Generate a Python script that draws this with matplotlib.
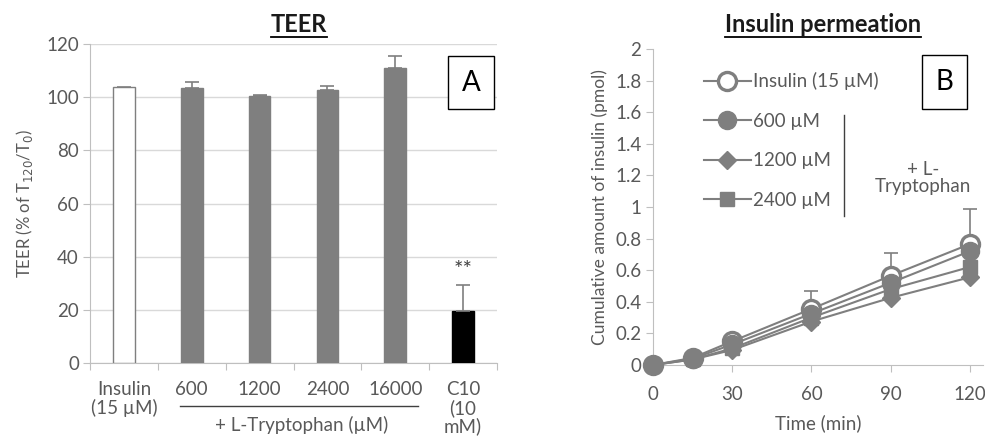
import matplotlib
matplotlib.use("Agg")
import matplotlib.pyplot as plt
from matplotlib.lines import Line2D
import numpy as np

plt.rcParams['font.family'] = ['Lato', 'DejaVu Sans']

# ---- Panel A data ----
teer_labels = ["Insulin\n(15 µM)", "600", "1200", "2400", "16000", "C10\n(10\nmM)"]
teer_values = [103.8, 103.4, 100.3, 102.6, 111.0, 19.5]
teer_err = [np.nan, 2.3, 0.4, 1.5, 4.6, 9.8]
teer_colors = ["white", "#7f7f7f", "#7f7f7f", "#7f7f7f", "#7f7f7f", "black"]
teer_yticks = [0, 20, 40, 60, 80, 100, 120]

# ---- Panel B data ----
time_min = [0, 15, 30, 60, 90, 120]
series_names = ["Insulin (15 µM)", "600 µM", "1200 µM", "2400 µM"]
ins_only = [0.0, 0.045, 0.15, 0.355, 0.565, 0.765]
trp_600 = [0.0, 0.04, 0.13, 0.325, 0.52, 0.72]
trp_1200 = [0.0, 0.035, 0.095, 0.275, 0.425, 0.555]
trp_2400 = [0.0, 0.035, 0.105, 0.30, 0.48, 0.62]
ins_err_up = [0.0, 0.0, 0.0, 0.115, 0.145, 0.225]
perm_yticks = [0, 0.2, 0.4, 0.6, 0.8, 1, 1.2, 1.4, 1.6, 1.8, 2]
perm_ytick_labels = ["0", "0.2", "0.4", "0.6", "0.8", "1", "1.2", "1.4", "1.6", "1.8", "2"]
time_ticks = [0, 30, 60, 90, 120]

W, H = 985, 447
fig = plt.figure(figsize=(W / 100, H / 100), dpi=100)
TXT = "#595959"
AX = "#bfbfbf"
FS = 13.5

def fx(px):
    return px / W

def fy(py):
    return 1 - py / H

# ================= Panel A =================
axA = fig.add_axes([fx(90), fy(363), fx(497 - 90), (363 - 44) / H])
x = np.arange(len(teer_values))
axA.bar(x, teer_values, width=0.32, color=teer_colors,
        edgecolor=["#7f7f7f", "#7f7f7f", "#7f7f7f", "#7f7f7f", "#7f7f7f", "black"],
        linewidth=1.0, zorder=3)
err = np.array(teer_err)
axA.errorbar(x, teer_values, yerr=[np.zeros(len(err)), err], fmt='none',
             ecolor="#7f7f7f", elinewidth=1.2, capsize=5, capthick=1.2, zorder=4)
axA.set_ylim(0, 120)
axA.set_xlim(-0.5, 5.5)
axA.set_yticks(teer_yticks)
axA.set_yticklabels([str(v) for v in teer_yticks], fontsize=FS, color=TXT)
axA.yaxis.grid(True, color="#d9d9d9", linewidth=1.0, zorder=0)
axA.set_axisbelow(True)
for s in ["top", "right"]:
    axA.spines[s].set_visible(False)
axA.spines["left"].set_color(AX)
axA.spines["bottom"].set_color(AX)
axA.tick_params(axis='y', length=5, color=AX, pad=3)
axA.set_xticks(np.arange(-0.5, 6.0, 1.0))
axA.set_xticklabels([])
axA.tick_params(axis='x', which='major', length=5, color=AX, direction='out')
axA.set_xticks(x, minor=True)
axA.set_xticklabels(teer_labels, minor=True, fontsize=FS, color=TXT, va='top', linespacing=1.05)
axA.tick_params(axis='x', which='minor', length=0, pad=13)
axA.set_ylabel("TEER (% of T$_{120}$/T$_0$)", fontsize=12, color=TXT, labelpad=8)
axA.text(x[5], teer_values[5] + teer_err[5] + 2, "**", ha='center', va='bottom',
         fontsize=16, color="#404040")
# bracket line and label for L-Tryptophan
fig.add_artist(Line2D([fx(180), fx(418)], [fy(406), fy(406)], color="#404040", linewidth=1.0))
fig.text(fx(302), fy(425), "+ L-Tryptophan (µM)", ha='center', va='center', fontsize=FS, color=TXT)
# box A
axA.text(0.936, 0.879, "A", transform=axA.transAxes, ha='center', va='center', fontsize=20,
         color="black", bbox=dict(boxstyle="square,pad=0.5", fc="white", ec="black", lw=1.0))

# ================= Panel B =================
axB = fig.add_axes([fx(653), fy(365), fx(983 - 653), (365 - 49) / H])
GR = "#7f7f7f"
ms = 13
l1, = axB.plot(time_min, trp_1200, color=GR, lw=1.5, marker='D', ms=9, mfc=GR, mec=GR,
               clip_on=False, zorder=3)
l2, = axB.plot(time_min, trp_2400, color=GR, lw=1.5, marker='s', ms=10, mfc=GR, mec=GR,
               clip_on=False, zorder=3)
l3, = axB.plot(time_min, trp_600, color=GR, lw=1.5, marker='o', ms=ms, mfc=GR, mec=GR,
               clip_on=False, zorder=4)
axB.errorbar(time_min, ins_only, yerr=[np.zeros(len(ins_err_up)), ins_err_up], fmt='none',
             ecolor=GR, elinewidth=1.2, capsize=5, capthick=1.2, zorder=2)
l0, = axB.plot(time_min, ins_only, color=GR, lw=1.5, marker='o', ms=ms, mfc="white", mec=GR,
               mew=2.4, clip_on=False, zorder=3.5)
axB.set_xlim(0, 125)
axB.set_ylim(0, 2)
axB.set_yticks(perm_yticks)
axB.set_yticklabels(perm_ytick_labels, fontsize=FS, color=TXT)
axB.set_xticks(time_ticks)
axB.set_xticklabels([str(t) for t in time_ticks], fontsize=FS, color=TXT)
for s in ["top", "right"]:
    axB.spines[s].set_visible(False)
axB.spines["left"].set_color(AX)
axB.spines["bottom"].set_color(AX)
axB.tick_params(axis='both', length=5, color=AX)
axB.tick_params(axis='x', pad=10)
axB.set_xlabel("Time (min)", fontsize=FS, color=TXT, labelpad=8)
axB.set_ylabel("Cumulative amount of insulin (pmol)", fontsize=12.5, color=TXT, labelpad=5)

leg = axB.legend([l0, l3, l1, l2], series_names, loc='upper left',
                 bbox_to_anchor=(fx(704), fy(72)), bbox_transform=fig.transFigure,
                 frameon=False, fontsize=FS, handlelength=2.5, handletextpad=0.1,
                 labelspacing=1.2, borderaxespad=0, borderpad=0)
for t in leg.get_texts():
    t.set_color(TXT)

fig.add_artist(Line2D([fx(844), fx(844)], [fy(115), fy(216)], color="#404040", linewidth=1.0))
fig.text(fx(923), fy(178), "+ L-\nTryptophan", ha='center', va='center', fontsize=FS,
         color=TXT, linespacing=1.0)
axB.text(0.883, 0.896, "B", transform=axB.transAxes, ha='center', va='center', fontsize=20,
         color="black", bbox=dict(boxstyle="square,pad=0.5", fc="white", ec="black", lw=1.0))

# ---- Titles with underline ----
def underlined_title(xc, yc, s):
    t = fig.text(fx(xc), fy(yc), s, ha='center', va='center', fontsize=17,
                 fontweight='bold', color="#1a1a1a")
    fig.canvas.draw()
    bb = t.get_window_extent(renderer=fig.canvas.get_renderer())
    ybar = bb.y0 - 1
    fig.add_artist(Line2D([bb.x0 / W, bb.x1 / W], [ybar / H, ybar / H], color="black", lw=1.3))

underlined_title(299, 24, "TEER")
underlined_title(823, 24, "Insulin permeation")

fig.savefig("out.png", dpi=100)
